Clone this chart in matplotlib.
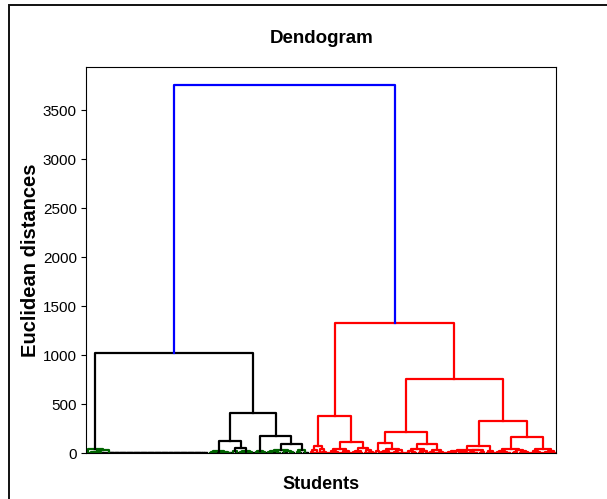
import numpy as np
import matplotlib
matplotlib.use("Agg")
import matplotlib.pyplot as plt
from matplotlib.patches import Rectangle

plt.rcParams['font.family'] = ['Liberation Sans', 'DejaVu Sans']

# Tree description: a node is [height, left, right]; an int k is k students,
# k > 1 meaning k identical records (merged at distance 0).
# --- left (black) branch ---
n3 = [18, [12, [8, 1, 1], 2], 3]
n2 = [38, n3, 44]
n1 = [48, 1, n2]
c_twig = [22, [12, [6, 1, 1], 2], [15, 3, [8, 1, 2]]]
d_node = [57, [20, 1, 2], [28, [14, 1, 2], [10, 2, 1]]]
e_twig = [25, [12, 2, 1], [18, 1, 2]]
f1_twig = [35, [20, [10, 1, 2], [8, 2, 1]], [25, 3, [12, 1, 2]]]
f2_twig = [30, [15, 1, 2], 3]
b_node = [410, [128, c_twig, d_node], [179, e_twig, [95, f1_twig, f2_twig]]]
black_branch = [1020, n1, b_node]

# --- right (red) branch ---
p1 = [30, [12, 1, 1], 2]
p2 = [40, 1, [15, 1, 2]]
q1 = [42, [20, 2, [10, 1, 2]], [25, 3, 2]]
q2 = [50, [22, [10, 1, 2], 2], [30, 2, [12, 1, 2]]]
r_left = [383, [77, p1, p2], [118, q1, q2]]
s1 = [102, [20, 1, 1], [45, [25, [12, 1, 2], 2], [30, [15, 2, 1], 3]]]
s2 = [95, [40, [20, 2, [10, 1, 2]], [28, 3, 2]], [35, [15, 1, 2], [18, 2, 2]]]
t1a = [38, [22, [12, 2, [8, 1, 2]], [15, 3, 2]], [30, [18, 1, 3], [14, 2, 1]]]
t1 = [74, t1a, [25, 2, 2]]
t2a = [48, [25, [12, 2, 1], [15, 1, 3]], [30, [16, 2, 1], [20, 2, [10, 1, 2]]]]
t2b = [42, [20, 2, [10, 1, 2]], [28, [14, 3, 1], 2]]
t2 = [166, t2a, t2b]
r_right = [756, [214, s1, s2], [332, t1, t2]]
red_branch = [1333, r_left, r_right]

root_height = 3755
branches = [black_branch, red_branch]
branch_colors = ['black', 'red']
root_color = 'blue'
twig_height = 50
twig_color = 'darkgreen'

n_students = 200
leaf_pos = iter(5 + 10 * np.arange(n_students))


def color_for(h, base):
    if base == 'black' and 0 < h <= twig_height:
        return twig_color
    return base


def draw(ax, node, base):
    """Draw a subtree, return (x of its stem, height)."""
    if isinstance(node, int):
        if node == 1:
            return next(leaf_pos), 0.0
        # identical records chained together at distance 0
        xa = next(leaf_pos)
        xb, _ = draw(ax, node - 1, base)
        ax.plot([xa, xa, xb, xb], [0, 0, 0, 0], color=base, lw=1.6)
        return (xa + xb) / 2, 0.0
    h, left, right = node
    xa, ha = draw(ax, left, base)
    xb, hb = draw(ax, right, base)
    ax.plot([xa, xa, xb, xb], [ha, h, h, hb], color=color_for(h, base), lw=1.6)
    return (xa + xb) / 2, h


fig = plt.figure(figsize=(6.07, 4.99), dpi=100)
ax = fig.add_axes([0.1425, 0.0916, 0.7735, 0.7744])

stems = []
for br, col in zip(branches, branch_colors):
    stems.append(draw(ax, br, col))
(xl, hl), (xr, hr) = stems
ax.plot([xl, xl, xr, xr], [hl, root_height, root_height, hr], color=root_color, lw=1.6)

ax.set_xlim(0, n_students * 10)
ax.set_ylim(0, root_height * 1.05)
ax.set_xticks([])
ax.set_yticks(np.arange(0, 3501, 500))
ax.tick_params(axis='y', labelsize=11)

ax.set_title('Dendogram', fontsize=13.5, fontweight='bold', pad=17)
ax.set_xlabel('Students', fontsize=13, fontweight='bold', labelpad=16)
ax.set_ylabel('Euclidean distances', fontsize=14.5, fontweight='bold', labelpad=2)

# frame around the figure
fig.patches.append(Rectangle((8.5 / 607, -0.5), 2, 1.5 - 4.5 / 499,
                             transform=fig.transFigure, fill=False,
                             edgecolor='#111111', lw=1.4))

fig.savefig('out.png', dpi=100)
